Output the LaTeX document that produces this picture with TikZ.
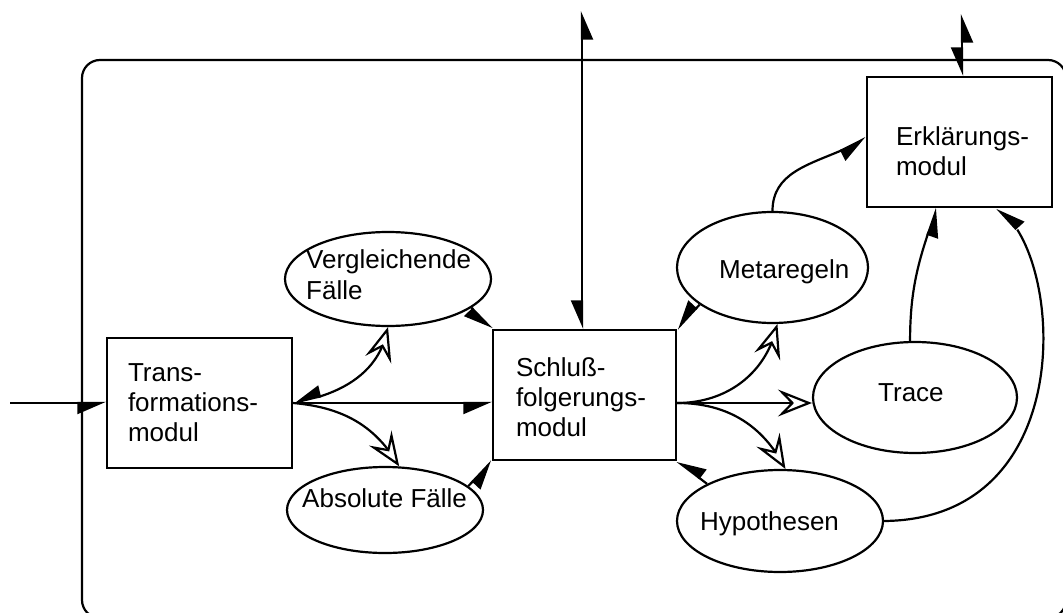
\documentclass[tikz,border=0pt]{standalone}
\usepackage{fontspec}
\setmainfont{Liberation Sans}
\usetikzlibrary{arrows.meta,shapes.geometric,bending,calc}
\hyphenpenalty=10000
\exhyphenpenalty=10000
\hbadness=10000
\hfuzz=100pt
\tikzset{
  HF/.tip={Triangle[harpoon,swap,length=26pt,width=22pt]},
  HO/.tip={Stealth[open,length=34pt,width=27pt,inset=13pt]},
  lw/.style={line width=2.2pt},
  box/.style={draw, line width=2.2pt, rectangle, minimum height=130pt, align=left,
    font=\fontsize{26}{30}\selectfont, inner ysep=0pt},
  ell/.style={draw, line width=2.2pt, ellipse, inner sep=0pt},
  lbl/.style={inner sep=0pt, font=\fontsize{26}{31}\selectfont, align=left},
}
\begin{document}
\begin{tikzpicture}[x=1pt,y=1pt]
\useasboundingbox (0,0) rectangle (1063,-613);
\clip (0,0) rectangle (1063,-613);
\draw[lw, rounded corners=18pt] (82,-60) rectangle (1066,-618);

% boxes
\node[box, minimum width=185pt, text width=143pt, inner xsep=21pt] (trans) at (199.5,-403) {Trans-\\formations-\\modul};
\node[box, minimum width=183pt, text width=137pt, inner xsep=23pt, text height=24pt] (schluss) at (584.5,-395) {Schluß-\\folgerungs-\\modul};
\node[box, minimum width=185pt, text width=127pt, inner xsep=29pt, text depth=12pt] (erkl) at (959.5,-142) {Erklärungs-\\modul};

% ellipses
\node[ell, minimum width=206pt, minimum height=94pt] (verg) at (388,-279) {};
\node[ell, minimum width=196pt, minimum height=86pt] (abs) at (385,-510) {};
\node[ell, minimum width=191pt, minimum height=111pt] (meta) at (772.5,-267.5) {};
\node[ell, minimum width=204pt, minimum height=111pt] (trace) at (915,-397.5) {};
\node[ell, minimum width=206pt, minimum height=102pt] (hyp) at (780,-521) {};

% ellipse texts
\node[lbl, anchor=north west] (vergt) at (306,-249) {Vergleichende\\Fälle};
\node[lbl, anchor=base west] (abst) at (302,-507) {Absolute Fälle};
\node[lbl, anchor=base west] (metat) at (719,-278) {Metaregeln};
\node[lbl, anchor=base west] (tracet) at (878,-401) {Trace};
\node[lbl, anchor=base west] (hypt) at (700,-530) {Hypothesen};

% connectors
\coordinate (in) at (10,-403);
\draw[lw,-HF] (in) -- (trans.west);
\draw[lw,-HF] (trans.east) -- (trans.east -| schluss.west);
\draw[lw,HO-HF] (verg.south) to[out=-100,in=10] (trans.east);
\draw[lw,-HO] (trans.east) to[out=-5,in=120] (abs.72);
\draw[lw,-HF] (verg.-19) -- (schluss.north west);
\draw[lw,-HF] (abs.16) -- (schluss.south west);
\draw[lw,-HF] (meta.207) -- (schluss.north east);
\draw[lw,-HF] (hyp.153) -- (schluss.south east);

\coordinate (sr) at (schluss.east |- trans.east);
\draw[lw,-HO] (sr) to[out=0,in=-102] (meta.-85);
\draw[lw,-HO] (sr) -- (trace.west |- sr);
\draw[lw,-HO] (sr) to[out=0,in=117] (hyp.84);

\draw[lw,-HF] (meta.north) to[out=90,in=212] ([yshift=4pt]erkl.west);
\draw[lw,-HF] (trace.95) to[out=90,in=-110] ([xshift=-22.5pt]erkl.south);
\draw[lw,-HF] (hyp.east) .. controls +(200,2) and +(66,-40) .. ([xshift=37.5pt]erkl.south);

\coordinate (t1) at (582,-11);
\draw[lw,HF-HF] (t1) -- (t1 |- schluss.north);
\coordinate (t2) at (962,-14);
\draw[lw,HF-HF] (t2) -- (t2 |- erkl.north);
\end{tikzpicture}
\end{document}
